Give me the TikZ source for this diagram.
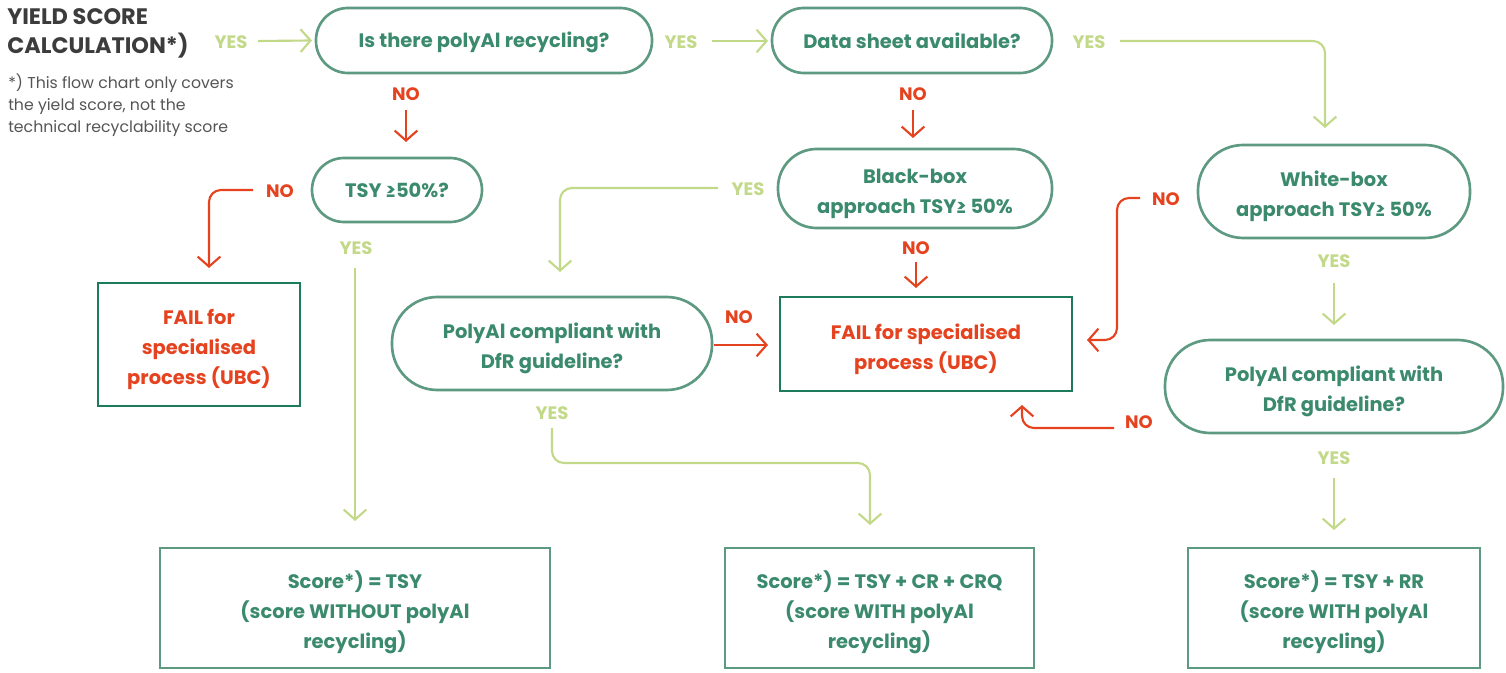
\documentclass[tikz,border=0pt]{standalone}
\usepackage{fontspec}
\setmainfont{Poppins}
\usetikzlibrary{arrows.meta}
\definecolor{gtext}{HTML}{3B8A6E}
\definecolor{gborder}{HTML}{5E9A82}
\definecolor{fborder}{HTML}{1E7A5C}
\definecolor{nored}{HTML}{E5431F}
\definecolor{yesgreen}{HTML}{C3D98A}
\definecolor{titlegrey}{HTML}{3C3C3C}
\definecolor{notegrey}{HTML}{555555}
\newcommand\firstlinestrut{\rule{0pt}{19.5pt}}
\tikzset{
  box/.style={draw=gborder, line width=2pt, inner sep=0pt, align=center, text=gtext,
    font=\fontsize{14.6}{22.5}\selectfont\bfseries},
  oneline/.style={execute at begin node={\rule{0pt}{15pt}},
    execute at end node={\rule[-3pt]{0pt}{3pt}}},
  pill/.style={box, rounded corners=#1},
  failbox/.style={box, draw=fborder, text=nored},
  scorebox/.style={box},
  yeslab/.style={text=yesgreen, font=\fontsize{13.5}{15}\selectfont\bfseries, inner sep=0pt},
  nolab/.style={text=nored, font=\fontsize{13.5}{15}\selectfont\bfseries, inner sep=0pt},
  yesline/.style={draw=yesgreen, line width=1.6pt, rounded corners=9pt,
    -{Straight Barb[length=7.5pt,width=17pt,line width=1.6pt]}},
  noline/.style={draw=nored, line width=1.6pt, rounded corners=9pt,
    -{Straight Barb[length=7.5pt,width=17pt,line width=1.6pt]}},
}
\begin{document}
\begin{tikzpicture}[x=0.75pt,y=-0.75pt]
\useasboundingbox (0,0) rectangle (1506,673);
% title and note
\node[anchor=north west, inner sep=0pt, align=left, text=titlegrey,
  font=\fontsize{16.8}{22}\selectfont\bfseries] (title) at (7,8) {YIELD SCORE\\CALCULATION*)};
\node[anchor=north west, inner sep=0pt, align=left, text=notegrey,
  font=\fontsize{11.8}{16.2}\selectfont] (note) at (8,74) {*) This flow chart only covers\\the yield score, not the\\technical recyclability score};
% decision nodes
\node[pill=24pt, oneline, minimum width=252pt, minimum height=48.75pt] (A) at (484,40.5) {Is there polyAl recycling?};
\node[pill=24pt, oneline, minimum width=210pt, minimum height=48.75pt] (B) at (912,40.5) {Data sheet available?};
\node[pill=24pt, oneline, minimum width=127.5pt, minimum height=48pt] (C) at (397,190) {TSY ≥50\%?};
\node[pill=29pt, minimum width=205.5pt, minimum height=59.25pt] (D) at (915,188.5) {\firstlinestrut Black-box\\approach TSY≥ 50\%};
\node[pill=34pt, minimum width=240pt, minimum height=69.75pt] (E) at (552,343.5) {\firstlinestrut PolyAl compliant with\\DfR guideline?};
\node[pill=34pt, minimum width=204pt, minimum height=69.75pt] (F) at (1334,191.5) {\firstlinestrut White-box\\approach TSY≥ 50\%};
\node[pill=34pt, minimum width=253.5pt, minimum height=69.75pt] (G) at (1334,386.5) {\firstlinestrut PolyAl compliant with\\DfR guideline?};
% fail boxes
\node[failbox, minimum width=151.5pt, minimum height=92.25pt] (F1) at (199,344.5) {\firstlinestrut FAIL for\\specialised\\process (UBC)};
\node[failbox, minimum width=219pt, minimum height=70.5pt] (F2) at (926,344) {\firstlinestrut FAIL for specialised\\process (UBC)};
% score boxes
\node[scorebox, minimum width=292.5pt, minimum height=90pt] (S1) at (355,608) {\firstlinestrut Score*) = TSY\\(score WITHOUT polyAl\\recycling)};
\node[scorebox, minimum width=231.75pt, minimum height=90pt] (S2) at (879.5,608) {\firstlinestrut Score*) = TSY + CR + CRQ\\(score WITH polyAl\\recycling)};
\node[scorebox, minimum width=219pt, minimum height=90pt] (S3) at (1334,608) {\firstlinestrut Score*) = TSY + RR\\(score WITH polyAl\\recycling)};
% labels
\node[yeslab] (y0) at (231,42) {YES};
\node[yeslab] (y1) at (681,42) {YES};
\node[yeslab] (y2) at (1089,42) {YES};
\node[yeslab] (y3) at (356,248) {YES};
\node[yeslab] (y4) at (748,189) {YES};
\node[yeslab] (y5) at (552,413) {YES};
\node[yeslab] (y6) at (1334,261) {YES};
\node[yeslab] (y7) at (1334,458) {YES};
\node[nolab] (n1) at (406,94) {NO};
\node[nolab] (n2) at (280,191) {NO};
\node[nolab] (n3) at (913,94) {NO};
\node[nolab] (n4) at (916,248) {NO};
\node[nolab] (n5) at (739,317) {NO};
\node[nolab] (n6) at (1166,199) {NO};
\node[nolab] (n7) at (1139,422) {NO};
% connectors
\coordinate (c1) at (258,41);
\draw[yesline] (c1) -- (A.west -| 312,0);
\coordinate (c2) at (712,41);
\draw[yesline] (c2) -- (768,41);
\coordinate (c3) at (1120,41);
\draw[yesline] (c3) -- (1325,41) -- (1325,128);
\coordinate (c4) at (406,110);
\draw[noline] (c4) -- (406,142);
\coordinate (c5) at (253,190);
\draw[noline] (c5) -- (209,190) -- (209,268);
\coordinate (c6) at (355,268);
\draw[yesline] (c6) -- (355,521);
\coordinate (c7) at (913,110);
\draw[noline] (c7) -- (913,138);
\coordinate (c8) at (718,188);
\draw[yesline] (c8) -- (560,188) -- (560,272);
\coordinate (c9) at (916,262);
\draw[noline] (c9) -- (916,288);
\coordinate (c10) at (714,345);
\draw[noline] (c10) -- (768,345);
\coordinate (c11) at (552,428);
\draw[yesline] (c11) -- (552,463) -- (870,463) -- (870,525);
\coordinate (c12) at (1140,198);
\draw[noline] (c12) -- (1117,198) -- (1117,340) -- (1087,340);
\coordinate (c13) at (1334,283);
\draw[yesline] (c13) -- (1334,325);
\coordinate (c14) at (1114,428);
\draw[noline] (c14) -- (1022,428) -- (1022,405);
\coordinate (c15) at (1334,478);
\draw[yesline] (c15) -- (1334,530);
\end{tikzpicture}
\end{document}
